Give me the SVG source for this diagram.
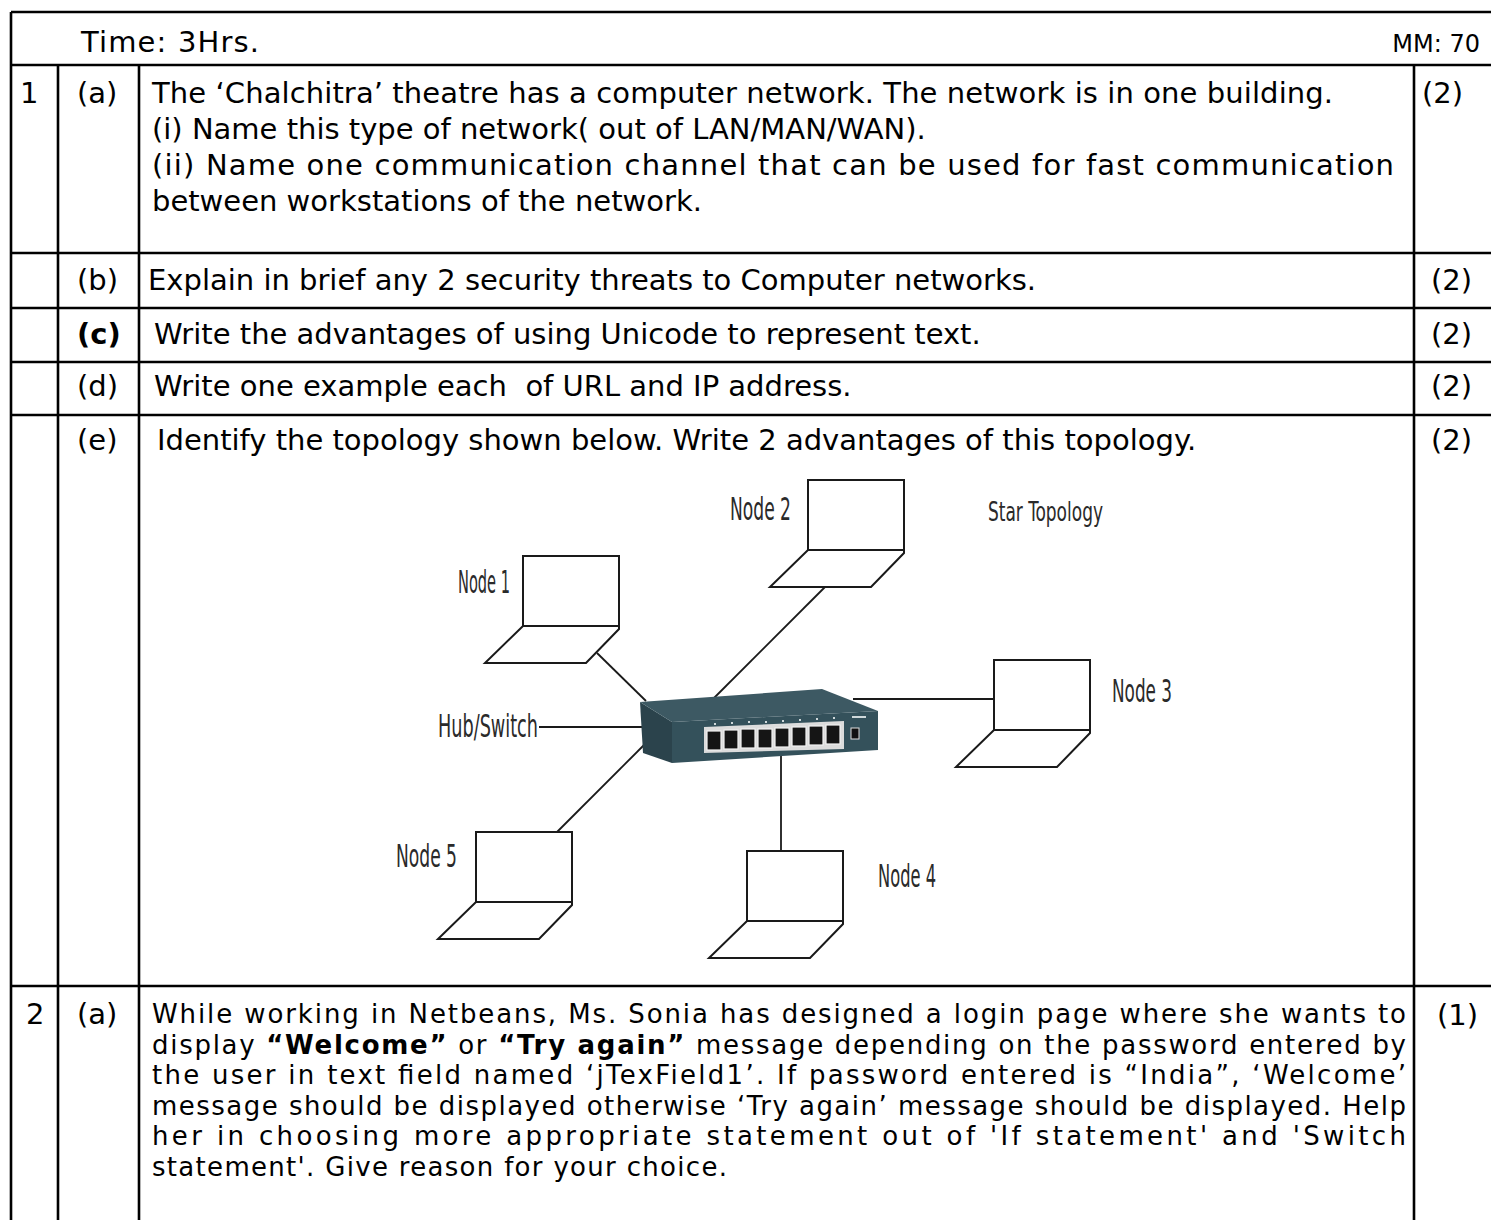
<svg xmlns="http://www.w3.org/2000/svg" width="1491" height="1220" viewBox="0 0 1491 1220">
<style>
.t{font-family:"DejaVu Sans","Liberation Sans",sans-serif;font-size:29px;fill:#000}
.s{font-size:26px}
.b{font-weight:bold}
.ln{stroke:#000;stroke-width:2.6;fill:none}
.lbl{font-family:"Liberation Sans Narrow","DejaVu Sans Condensed","Liberation Sans",sans-serif;font-size:32px;fill:#2a2a2a}
.lap{fill:#fff;stroke:#1a1a1a;stroke-width:2}
.con{stroke:#1a1a1a;stroke-width:1.8;fill:none}
.port{fill:#151515;stroke:#f2f2f2;stroke-width:1.2}
</style>
<defs>
<g id="laptop">
<rect class="lap" x="0" y="0" width="96" height="70"/>
<polygon class="lap" points="0,70 96,70 96,73 63,107 -38,107"/>
</g>
</defs>
<rect x="0" y="0" width="1491" height="1220" fill="#fff"/>
<g id="table">
<path class="ln" d="M11,12 H1491 M11,12 V1220 M11,65 H1491 M58,65 V1220 M139,65 V1220 M1414,65 V1220 M11,253 H1491 M11,308 H1491 M11,362 H1491 M11,415 H1491 M11,986 H1491"/>
</g>
<g id="header">
<text class="t" x="81" y="52" textLength="178" lengthAdjust="spacing">Time: 3Hrs.</text>
<text class="t" x="1480" y="52" text-anchor="end" style="font-size:24px">MM: 70</text>
</g>
<g id="q1a">
<text class="t" x="20" y="103">1</text>
<text class="t" x="77" y="103">(a)</text>
<text class="t" x="1422" y="103">(2)</text>
<text class="t" x="152" y="103" textLength="1181" lengthAdjust="spacing">The ‘Chalchitra’ theatre has a computer network. The network is in one building.</text>
<text class="t" x="152" y="139">(i) Name this type of network( out of LAN/MAN/WAN).</text>
<text class="t" x="152" y="175" textLength="1242" lengthAdjust="spacing">(ii) Name one communication channel that can be used for fast communication</text>
<text class="t" x="152" y="211">between workstations of the network.</text>
</g>
<g id="q1b">
<text class="t" x="77" y="290">(b)</text>
<text class="t" x="148" y="290">Explain in brief any 2 security threats to Computer networks.</text>
<text class="t" x="1431" y="290">(2)</text>
</g>
<g id="q1c">
<text class="t b" x="77" y="344">(c)</text>
<text class="t" x="154" y="344">Write the advantages of using Unicode to represent text.</text>
<text class="t" x="1431" y="344">(2)</text>
</g>
<g id="q1d">
<text class="t" x="77" y="396">(d)</text>
<text class="t" x="154" y="396" xml:space="preserve">Write one example each  of URL and IP address.</text>
<text class="t" x="1431" y="396">(2)</text>
</g>
<g id="q1e">
<text class="t" x="77" y="450">(e)</text>
<text class="t" x="157" y="450">Identify the topology shown below. Write 2 advantages of this topology.</text>
<text class="t" x="1431" y="450">(2)</text>
</g>
<g id="connectors">
<line class="con" x1="597" y1="653" x2="646" y2="701"/>
<line class="con" x1="825" y1="587" x2="714" y2="698"/>
<line class="con" x1="853" y1="699" x2="994" y2="699"/>
<line class="con" x1="781" y1="755" x2="781" y2="855"/>
<line class="con" x1="647" y1="742" x2="557" y2="832"/>
<line class="con" x1="539" y1="727" x2="645" y2="727"/>
</g>
<g id="hub">
<polygon points="640,702 672,722 672,763 643,753" fill="#2b434c"/>
<polygon points="640,702 822,689 878,711 672,722" fill="#3d5963"/>
<polygon points="672,722 878,711 878,750 672,763" fill="#34515b"/>
<polygon points="704,727 844,721 844,749 704,753" fill="#dcdcdc"/>
<rect class="port" x="707" y="731" width="14" height="19"/>
<rect class="port" x="724" y="730" width="14" height="19"/>
<rect class="port" x="741" y="729" width="14" height="19"/>
<rect class="port" x="758" y="729" width="14" height="19"/>
<rect class="port" x="775" y="728" width="14" height="19"/>
<rect class="port" x="792" y="727" width="14" height="19"/>
<rect class="port" x="809" y="726" width="14" height="19"/>
<rect class="port" x="826" y="725" width="14" height="19"/>
<rect x="851" y="728" width="8" height="11" fill="#111" stroke="#ddd" stroke-width="1"/>
<g fill="#cfd8da">
<rect x="714" y="723" width="2" height="2"/><rect x="731" y="722" width="2" height="2"/><rect x="748" y="721" width="2" height="2"/><rect x="765" y="721" width="2" height="2"/><rect x="782" y="720" width="2" height="2"/><rect x="799" y="719" width="2" height="2"/><rect x="816" y="718" width="2" height="2"/><rect x="833" y="717" width="2" height="2"/><rect x="852" y="716" width="14" height="2"/>
</g>
<text class="lbl" x="438" y="737" textLength="100" lengthAdjust="spacingAndGlyphs">Hub/Switch</text>
</g>
<g id="node1">
<use href="#laptop" x="523" y="556"/>
<text class="lbl" x="458" y="593" textLength="52" lengthAdjust="spacingAndGlyphs">Node 1</text>
</g>
<g id="node2">
<use href="#laptop" x="808" y="480"/>
<text class="lbl" x="730" y="520" textLength="61" lengthAdjust="spacingAndGlyphs">Node 2</text>
</g>
<g id="node3">
<use href="#laptop" x="994" y="660"/>
<text class="lbl" x="1112" y="702" textLength="60" lengthAdjust="spacingAndGlyphs">Node 3</text>
</g>
<g id="node4">
<use href="#laptop" x="747" y="851"/>
<text class="lbl" x="878" y="887" textLength="58" lengthAdjust="spacingAndGlyphs">Node 4</text>
</g>
<g id="node5">
<use href="#laptop" x="476" y="832"/>
<text class="lbl" x="396" y="867" textLength="61" lengthAdjust="spacingAndGlyphs">Node 5</text>
</g>
<g id="title">
<text class="lbl" x="988" y="521" style="font-size:26px" textLength="115" lengthAdjust="spacingAndGlyphs">Star Topology</text>
</g>
<g id="q2a">
<text class="t" x="26" y="1024">2</text>
<text class="t" x="77" y="1024">(a)</text>
<text class="t" x="1437" y="1025">(1)</text>
<text class="t s" x="152" y="1023" textLength="1254" lengthAdjust="spacing">While working in Netbeans, Ms. Sonia has designed a login page where she wants to</text>
<text class="t s" x="152" y="1053.5" textLength="1254" lengthAdjust="spacing">display <tspan class="b">“Welcome”</tspan> or <tspan class="b">“Try again”</tspan> message depending on the password entered by</text>
<text class="t s" x="152" y="1084" textLength="1254" lengthAdjust="spacing">the user in text field named ‘jTexField1’. If password entered is “India”, ‘Welcome’</text>
<text class="t s" x="152" y="1114.5" textLength="1254" lengthAdjust="spacing">message should be displayed otherwise ‘Try again’ message should be displayed. Help</text>
<text class="t s" x="152" y="1145" textLength="1254" lengthAdjust="spacing">her in choosing more appropriate statement out of 'If statement' and 'Switch</text>
<text class="t s" x="152" y="1175.5" textLength="575" lengthAdjust="spacing">statement'. Give reason for your choice.</text>
</g>
</svg>
